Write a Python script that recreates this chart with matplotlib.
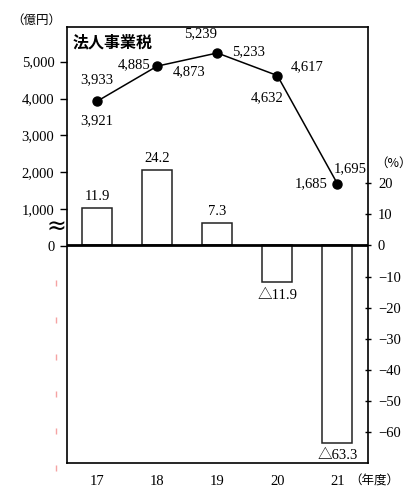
import matplotlib
matplotlib.use("Agg")
import matplotlib.pyplot as plt
import numpy as np

# ---- data ----
years = ["17", "18", "19", "20", "21"]
growth_pct = [11.9, 24.2, 7.3, -11.9, -63.3]          # bars (%)
revenue_a = [3933, 4885, 5239, 4617, 1695]            # 億円
revenue_b = [3921, 4873, 5233, 4632, 1685]            # 億円
left_ticks = [0, 1000, 2000, 3000, 4000, 5000]
right_ticks = [-60, -50, -40, -30, -20, -10, 0, 10, 20]
pink_marks = [-1000, -2000, -3000, -4000, -5000, -6000]

# label offsets (points) for the two value labels of each point
off_a = [(0, 15.6), (-16.8, 1.4), (-12, 13.9), (21.6, 6.7), (9.1, 11.2)]
off_b = [(0, -14.0), (22.8, -4.0), (22.3, 1.2), (-7.7, -15.6), (-19, 0)]

SERIF = ["Liberation Serif", "Noto Sans CJK JP", "DejaVu Sans"]
JP = ["Noto Sans CJK JP", "DejaVu Sans"]
FS = 10.5

fig = plt.figure(figsize=(4.12, 4.94), dpi=100)
ax = fig.add_axes([67 / 412, 1 - 462.7 / 494, 300.5 / 412, 436 / 494])
axl = ax.twinx()
x = np.arange(len(years))

# bars on % axis (right)
ax.bar(x, growth_pct, width=0.5, facecolor="white", edgecolor="#222222",
       linewidth=1.1, zorder=2)
ax.axhline(0, color="black", linewidth=2.0, zorder=3)
ax.set_xlim(-0.5, 4.5)
ax.set_ylim(-69.7, 70.1)
ax.yaxis.tick_right()
ax.set_yticks(right_ticks)
ax.set_yticklabels([f"{t}".replace("-", "\u2212") for t in right_ticks],
                   family=SERIF, fontsize=FS)
ax.tick_params(axis="y", direction="inout", length=5, width=1.0, pad=5)
ax.set_xticks(x)
ax.set_xticklabels(years, family=SERIF, fontsize=FS)
ax.tick_params(axis="x", length=0, pad=9)
for s in ax.spines.values():
    s.set_linewidth(1.2)
    s.set_color("black")

for xi, v in zip(x, growth_pct):
    if v >= 0:
        ax.annotate(f"{v:.1f}", (xi, v), xytext=(0, 3.5), textcoords="offset points",
                    ha="center", va="bottom", family=SERIF, fontsize=FS)
    else:
        ax.annotate(f"\u25b3{abs(v):.1f}", (xi, v), xytext=(0, -4.5),
                    textcoords="offset points", ha="center", va="top",
                    family=SERIF, fontsize=FS)

# line on 億円 axis (left)
axl.yaxis.tick_left()
axl.set_ylim(-5867, 5948)
axl.set_yticks(left_ticks)
axl.set_yticklabels([f"{t:,}" for t in left_ticks], family=SERIF, fontsize=FS)
axl.tick_params(axis="y", direction="out", length=5, width=1.0, pad=4)
for s in axl.spines.values():
    s.set_visible(False)

rev_mid = [(a + b) / 2 for a, b in zip(revenue_a, revenue_b)]
axl.plot(x, rev_mid, color="black", linewidth=1.1, marker="o", markersize=6.5,
         zorder=5)
for xi, ym, a, b, oa, ob in zip(x, rev_mid, revenue_a, revenue_b, off_a, off_b):
    axl.annotate(f"{a:,}", (xi, ym), xytext=oa, textcoords="offset points",
                 ha="center", va="center", family=SERIF, fontsize=FS)
    axl.annotate(f"{b:,}", (xi, ym), xytext=ob, textcoords="offset points",
                 ha="center", va="center", family=SERIF, fontsize=FS)

# faint pink marks left of axis
axl.plot([-0.5 - 11 / 60] * len(pink_marks), pink_marks, linestyle="none",
         marker="|", markersize=4, color="#f5a3a3", clip_on=False)

# break symbol
axl.text(-0.037, 520, "\u2248", transform=axl.get_yaxis_transform(),
         ha="center", va="center", fontsize=17, family=["DejaVu Sans"])

# title and unit labels
ax.text(0.02, 0.963, "法人事業税", transform=ax.transAxes, ha="left", va="center",
        fontsize=11.5, fontweight="bold", family=JP)
fig.text(36.7 / 412, 1 - 20 / 494, "（億円）", ha="center", va="center",
         fontsize=9, family=JP)
fig.text(394 / 412, 1 - 163.3 / 494, "（%）", ha="center", va="center",
         fontsize=9, family=JP)
fig.text(374.3 / 412, 1 - 480.7 / 494, "（年度）", ha="center", va="center",
         fontsize=9, family=JP)

fig.savefig("out.png", dpi=100)
